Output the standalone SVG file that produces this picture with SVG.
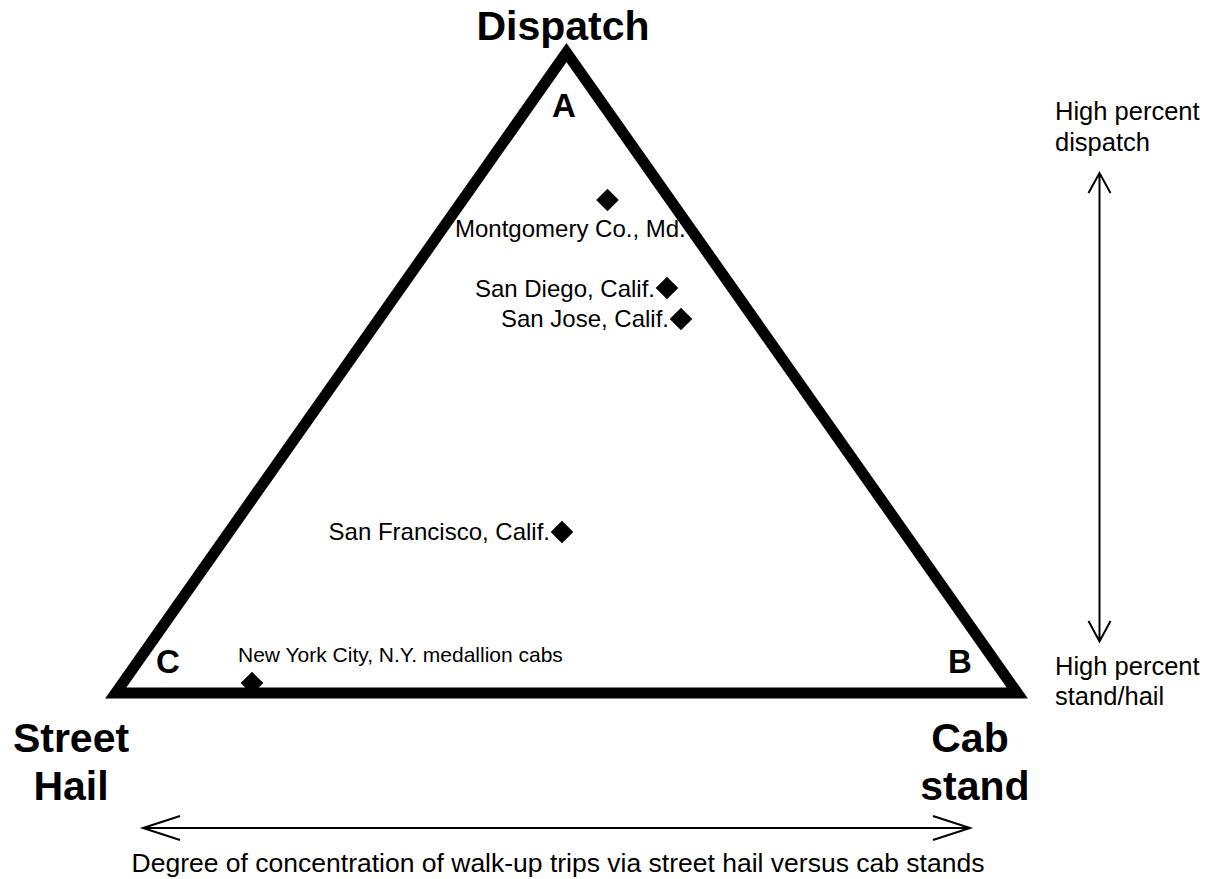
<svg xmlns="http://www.w3.org/2000/svg" width="1220" height="879" viewBox="0 0 1220 879">
<style>
.big{font-family:"Liberation Sans",Arial,sans-serif;font-weight:bold;font-size:41px;fill:#000;text-anchor:middle}
.corner{font-family:"Liberation Sans",Arial,sans-serif;font-weight:bold;font-size:33px;fill:#000;text-anchor:middle}
.lbl{font-family:"Liberation Sans",Arial,sans-serif;font-size:24px;fill:#000}
.side{font-family:"Liberation Sans",Arial,sans-serif;font-size:25.5px;fill:#000}
.dia{fill:#000}
.arr{fill:none;stroke:#000;stroke-width:2}
</style>
<rect width="1220" height="879" fill="#fff"/>
<g id="triangle">
<polygon points="566.5,52.5 115.7,693 1017.3,693" fill="none" stroke="#000" stroke-width="11" stroke-linejoin="miter" stroke-miterlimit="10"/>
</g>
<g id="corner-labels">
<text class="big" x="563" y="40">Dispatch</text>
<text class="corner" x="564" y="117">A</text>
<text class="corner" x="168" y="673">C</text>
<text class="corner" x="960" y="673">B</text>
<text class="big" x="71" y="752">Street</text>
<text class="big" x="71" y="800">Hail</text>
<text class="big" x="970" y="752">Cab</text>
<text class="big" x="975" y="800">stand</text>
</g>
<g id="montgomery"><rect class="dia" x="-8" y="-8" width="16" height="16" transform="translate(607.5,200) rotate(45)"/><text class="lbl" x="455" y="237">Montgomery Co., Md.</text></g>
<g id="sandiego"><rect class="dia" x="-8" y="-8" width="16" height="16" transform="translate(667,288) rotate(45)"/><text class="lbl" x="655" y="297" text-anchor="end">San Diego, Calif.</text></g>
<g id="sanjose"><rect class="dia" x="-8" y="-8" width="16" height="16" transform="translate(681,319) rotate(45)"/><text class="lbl" x="669" y="327" text-anchor="end">San Jose, Calif.</text></g>
<g id="sanfrancisco"><rect class="dia" x="-8" y="-8" width="16" height="16" transform="translate(562,532) rotate(45)"/><text class="lbl" x="550" y="540" text-anchor="end">San Francisco, Calif.</text></g>
<g id="nyc"><rect class="dia" x="-8" y="-8" width="16" height="16" transform="translate(252,683) rotate(45)"/><text class="lbl" x="238" y="662" style="font-size:21px">New York City, N.Y. medallion cabs</text></g>
<g id="right-labels">
<text class="side" x="1055" y="120">High percent</text>
<text class="side" x="1055" y="151">dispatch</text>
<text class="side" x="1055" y="675">High percent</text>
<text class="side" x="1055" y="705">stand/hail</text>
</g>
<g id="connectors">
<path class="arr" d="M1099.5,173 V641.5 M1088.5,193 L1099.5,173 L1110.5,193 M1088.5,621 L1099.5,641.5 L1110.5,621"/>
<path class="arr" d="M143,828 H970 M180,816 L143,828 L180,840 M933,816 L970,828 L933,840"/>
</g>
<text class="side" x="558" y="872" text-anchor="middle" style="font-size:26.5px">Degree of concentration of walk-up trips via street hail versus cab stands</text>
</svg>
